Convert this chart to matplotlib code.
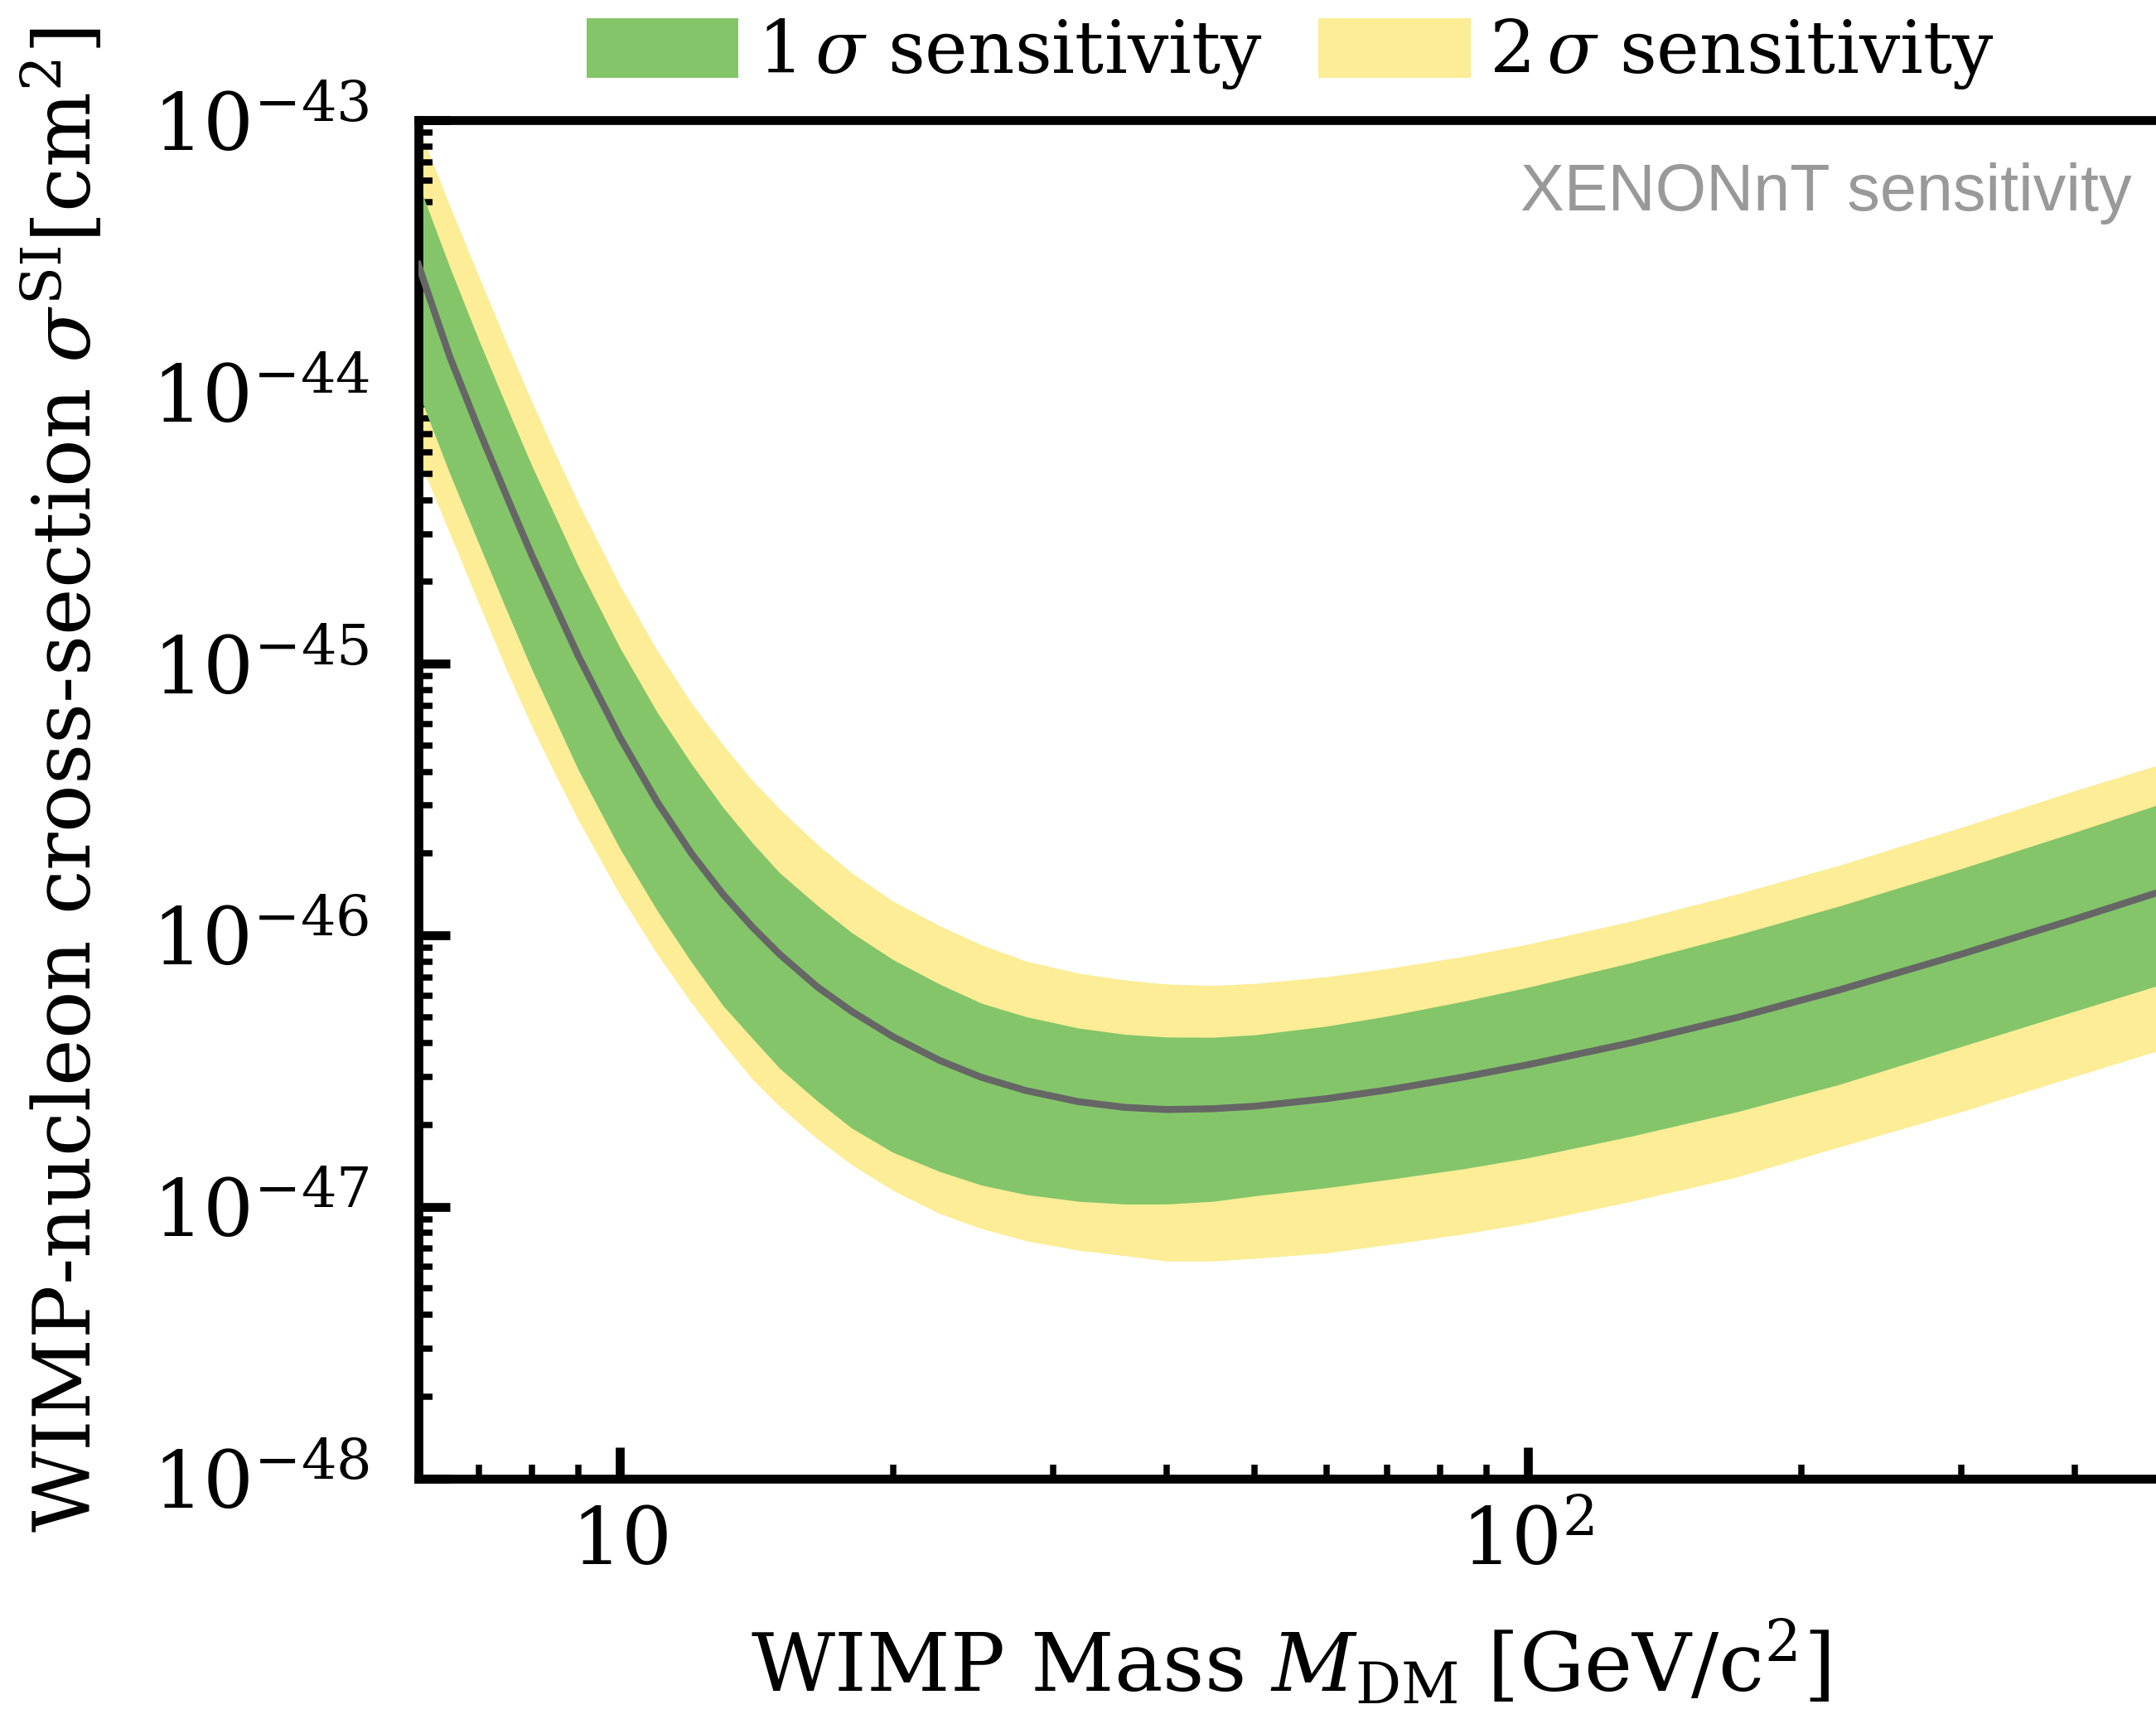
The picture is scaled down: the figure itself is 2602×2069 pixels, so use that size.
import numpy as np
import matplotlib
matplotlib.use("Agg")
import matplotlib.pyplot as plt
from matplotlib.patches import Patch
from matplotlib.ticker import FixedLocator, FuncFormatter, NullFormatter

plt.rcParams['font.family'] = 'DejaVu Serif'
plt.rcParams['mathtext.fontset'] = 'dejavuserif'

# ---------------- data (WIMP mass in GeV/c^2, log10 of cross-section in cm^2) ----------------
mass = [6, 6.5, 7, 7.5, 8, 8.5, 9, 10, 11, 12, 13, 14, 15, 16.5, 18, 20, 22.5, 25, 28, 32,
        36, 40, 45, 50, 60, 70, 85, 100, 130, 170, 220, 300, 400, 500]

log_sigma_median = [-43.53, -43.87, -44.14, -44.38, -44.60, -44.79, -44.97, -45.27, -45.51,
                    -45.70, -45.85, -45.97, -46.07, -46.19, -46.28, -46.374, -46.461, -46.523,
                    -46.572, -46.613, -46.634, -46.642, -46.639, -46.630, -46.602, -46.570,
                    -46.522, -46.477, -46.396, -46.303, -46.202, -46.070, -45.941, -45.837]

log_sigma_1s_up = [-43.23, -43.54, -43.81, -44.05, -44.27, -44.46, -44.64, -44.94, -45.18,
                   -45.37, -45.53, -45.66, -45.77, -45.89, -45.99, -46.09, -46.18, -46.25,
                   -46.30, -46.342, -46.365, -46.375, -46.376, -46.367, -46.335, -46.298,
                   -46.243, -46.192, -46.101, -45.999, -45.893, -45.755, -45.621, -45.514]

log_sigma_1s_lo = [-44.00, -44.30, -44.56, -44.80, -45.02, -45.21, -45.39, -45.68, -45.91,
                   -46.10, -46.26, -46.38, -46.49, -46.61, -46.71, -46.80, -46.87, -46.92,
                   -46.955, -46.98, -46.99, -46.99, -46.98, -46.96, -46.93, -46.90, -46.86,
                   -46.82, -46.74, -46.65, -46.55, -46.41, -46.28, -46.18]

log_sigma_2s_up = [-43.02, -43.314, -43.576, -43.816, -44.034, -44.229, -44.407, -44.71,
                   -44.952, -45.146, -45.30, -45.43, -45.535, -45.665, -45.77, -45.875,
                   -45.965, -46.035, -46.095, -46.14, -46.165, -46.18, -46.185, -46.178,
                   -46.153, -46.123, -46.078, -46.033, -45.948, -45.848, -45.743, -45.603,
                   -45.468, -45.368]

log_sigma_2s_lo = [-44.24, -44.52, -44.78, -45.02, -45.23, -45.41, -45.575, -45.85, -46.07,
                   -46.25, -46.40, -46.53, -46.63, -46.75, -46.845, -46.94, -47.025, -47.08,
                   -47.125, -47.16, -47.18, -47.20, -47.20, -47.19, -47.17, -47.14, -47.10,
                   -47.06, -46.98, -46.89, -46.78, -46.65, -46.52, -46.42]

x_major = [10, 100]
x_major_labels = ['$10$', '$10^{2}$']
x_minor = [7, 8, 9, 20, 30, 40, 50, 60, 70, 80, 90, 200, 300, 400]
y_decades = [-48, -47, -46, -45, -44, -43]

GREEN = '#84C56A'
YELLOW = '#FCED96'
MEDIAN = '#666666'

# ---------------- figure ----------------
fig = plt.figure(figsize=(2603 / 300, 2069 / 300), dpi=300)
ax = fig.add_axes([0.1939, 0.1375, 0.8088, 0.7922])
ax.set_xscale('log')
ax.set_yscale('log')

m = np.asarray(mass, float)
ax.fill_between(m, 10.0 ** np.asarray(log_sigma_2s_lo), 10.0 ** np.asarray(log_sigma_2s_up),
                color=YELLOW, lw=0, zorder=1)
ax.fill_between(m, 10.0 ** np.asarray(log_sigma_1s_lo), 10.0 ** np.asarray(log_sigma_1s_up),
                color=GREEN, lw=0, zorder=2)
ax.plot(m, 10.0 ** np.asarray(log_sigma_median), color=MEDIAN, lw=2.0, zorder=3,
        solid_joinstyle='round')

ax.set_xlim(6, 500)
ax.set_ylim(1e-48, 1e-43)

# ticks
def xfmt(v, p):
    k = int(round(v))
    return x_major_labels[x_major.index(k)] if k in x_major else ''

ax.xaxis.set_major_locator(FixedLocator(x_major))
ax.xaxis.set_major_formatter(FuncFormatter(xfmt))
ax.xaxis.set_minor_locator(FixedLocator(x_minor))
ax.xaxis.set_minor_formatter(NullFormatter())

y_major = [10.0 ** d for d in y_decades]
y_minor = [k * 10.0 ** d for d in y_decades[:-1] for k in range(2, 10)]
ax.yaxis.set_major_locator(FixedLocator(y_major))
ax.yaxis.set_minor_locator(FixedLocator(y_minor))
ax.yaxis.set_major_formatter(FuncFormatter(lambda v, p: r'$10^{%d}$' % int(round(np.log10(v)))))
ax.yaxis.set_minor_formatter(NullFormatter())

ax.tick_params(which='major', direction='in', length=9.1, width=2.57, labelsize=23)
ax.tick_params(which='minor', direction='in', length=4.1, width=1.8)
ax.tick_params(axis='y', which='major', pad=14.2)
ax.tick_params(axis='x', which='major', pad=7.5)

for s in ax.spines.values():
    s.set_linewidth(2.57)

ax.set_xlabel(r'WIMP Mass $M_{\rm DM}$ [GeV/c$^2$]', fontsize=23.6, labelpad=11)
ax.set_ylabel(r'WIMP-nucleon cross-section $\sigma^{\rm SI}[{\rm cm}^2]$', fontsize=23.0,
              labelpad=14)
ax.yaxis.set_label_coords(-0.178, 0.514)

handles = [Patch(facecolor=GREEN, edgecolor='none', label=r'$1\,\sigma$ sensitivity'),
           Patch(facecolor=YELLOW, edgecolor='none', label=r'$2\,\sigma$ sensitivity')]
ax.legend(handles=handles, loc='center', bbox_to_anchor=(0.5, 1.049), ncol=2, frameon=False,
          fontsize=21, handlelength=2.1, handleheight=0.9, handletextpad=0.26,
          columnspacing=0.765, borderaxespad=0, borderpad=0)

ax.text(0.982, 0.934, 'XENONnT sensitivity', transform=ax.transAxes, ha='right',
        va='baseline', fontsize=19, color='#999999', family='Liberation Sans')

fig.savefig('out.png', dpi=300)
